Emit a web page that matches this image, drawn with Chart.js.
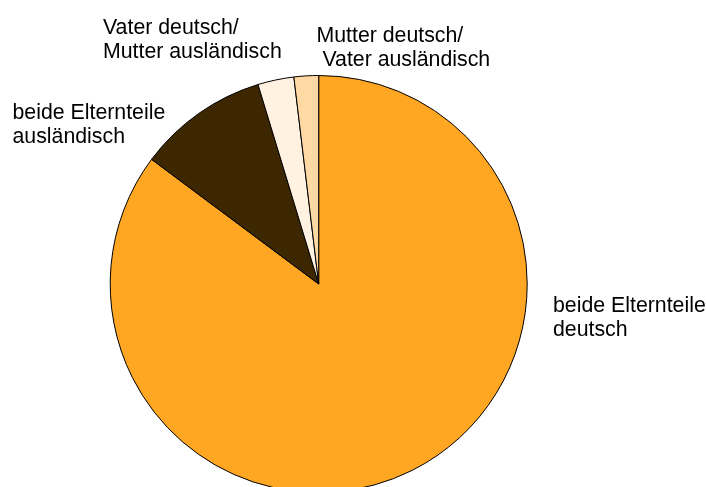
<!DOCTYPE html>
<html>
<head>
<meta charset="utf-8">
<script src="https://cdn.jsdelivr.net/npm/chart.js@4/dist/chart.umd.min.js"></script>
<style>
  html, body { margin: 0; padding: 0; background: #fff; overflow: hidden; width: 706px; height: 487px; }
  #wrap { position: absolute; left: 0; top: 0; width: 706px; height: 600px; }
</style>
</head>
<body>
<div id="wrap"><canvas id="c" width="706" height="600"></canvas></div>
<script>
const categories = [
  "beide Elternteile deutsch",
  "beide Elternteile ausländisch",
  "Vater deutsch/ Mutter ausländisch",
  "Mutter deutsch/ Vater ausländisch"
];
const shares = [85.2, 10.1, 2.8, 1.9];
const labelLines = [
  ["beide Elternteile", "deutsch"],
  ["beide Elternteile", "ausländisch"],
  ["Vater deutsch/", "Mutter ausländisch"],
  ["Mutter deutsch/", " Vater ausländisch"]
];
const sliceColors = ["#FFA623", "#3D2700", "#FFF2E1", "#FFD9A3"];

// label anchor positions (left edge, first baseline) in pixels
const labelPos = [
  [553, 311.5],
  [12.5, 118.5],
  [103, 33.5],
  [316.5, 41.5]
];

const labelPlugin = {
  id: 'sliceLabels',
  afterDraw(chart) {
    const ctx = chart.ctx;
    ctx.save();
    ctx.font = '21.3px "Liberation Sans", Arial, sans-serif';
    ctx.fillStyle = '#000';
    ctx.textAlign = 'left';
    ctx.textBaseline = 'alphabetic';
    labelLines.forEach((lines, i) => {
      const [x, y] = labelPos[i];
      lines.forEach((t, j) => ctx.fillText(t, x, y + j * 24.5));
    });
    ctx.restore();
  }
};

new Chart(document.getElementById('c'), {
  type: 'pie',
  data: {
    labels: categories,
    datasets: [{
      data: shares,
      backgroundColor: sliceColors,
      borderColor: '#000',
      borderWidth: 1
    }]
  },
  options: {
    responsive: false,
    animation: false,
    layout: { padding: { left: 109.7, right: 178.3, top: 75, bottom: 107 } },
    plugins: {
      legend: { display: false },
      tooltip: { enabled: false }
    }
  },
  plugins: [labelPlugin]
});
</script>
</body>
</html>
